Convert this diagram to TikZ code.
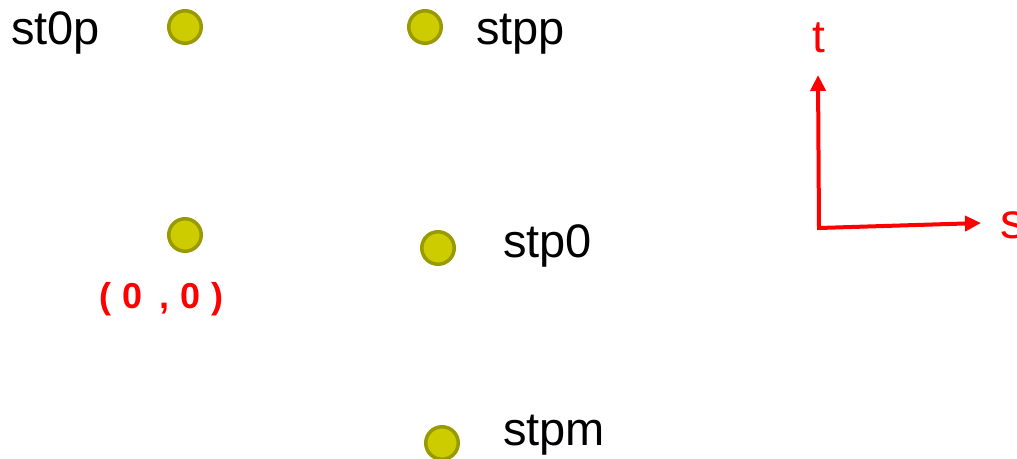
\documentclass[tikz,border=0pt]{standalone}
\usepackage{fontspec}
\setmainfont{Liberation Sans}
\usetikzlibrary{arrows.meta}
\definecolor{ptfill}{RGB}{204,204,0}
\definecolor{ptline}{RGB}{153,153,0}
\tikzset{
  pt/.style={circle,draw=ptline,fill=ptfill,line width=3.5pt,minimum size=32.5pt,inner sep=0pt},
  lbl/.style={anchor=base west,inner sep=0pt,font=\fontsize{47}{56}\selectfont},
  axislbl/.style={anchor=base,inner sep=0pt,text=red},
  axis/.style={draw=red,line width=4pt,line join=miter,
    arrows={Triangle[length=16pt,width=15pt]-Triangle[length=16pt,width=15pt]}}
}
\begin{document}
\begin{tikzpicture}[x=1pt,y=-1pt]
\useasboundingbox (0,0) rectangle (1017,458);
% points
\node [pt] (st0p) at (185,27) {};
\node [pt] (origin) at (185,235) {};
\node [pt] (stpp) at (425,27) {};
\node [pt] (stp0) at (438,248) {};
\node [pt] (stpm) at (442,443) {};
% names
\node [lbl] (st0plbl) at (11,44) {st0p};
\node [lbl] (stpplbl) at (476,44) {stpp};
\node [lbl] (stp0lbl) at (503,257) {stp0};
\node [lbl] (stpmlbl) at (503,445) {stpm};
\node [anchor=base west,inner sep=0pt,text=red,font=\fontsize{36}{42}\selectfont\bfseries]
  (originlbl) at (99,308) {(\hspace{0.31em}0\hspace{0.47em},\hspace{0.31em}0\hspace{0.31em})};
% axes
\coordinate (corner) at (819,228);
\coordinate (ttip) at (818,75);
\coordinate (stip) at (981,223);
\draw [axis] (ttip) -- (corner) -- (stip);
\node [axislbl,font=\fontsize{46}{54}\selectfont] (tlbl) at (819,52) {t};
\node [axislbl,anchor=base west,font=\fontsize{50}{58}\selectfont] (slbl) at (1000,238) {s};
\end{tikzpicture}
\end{document}
